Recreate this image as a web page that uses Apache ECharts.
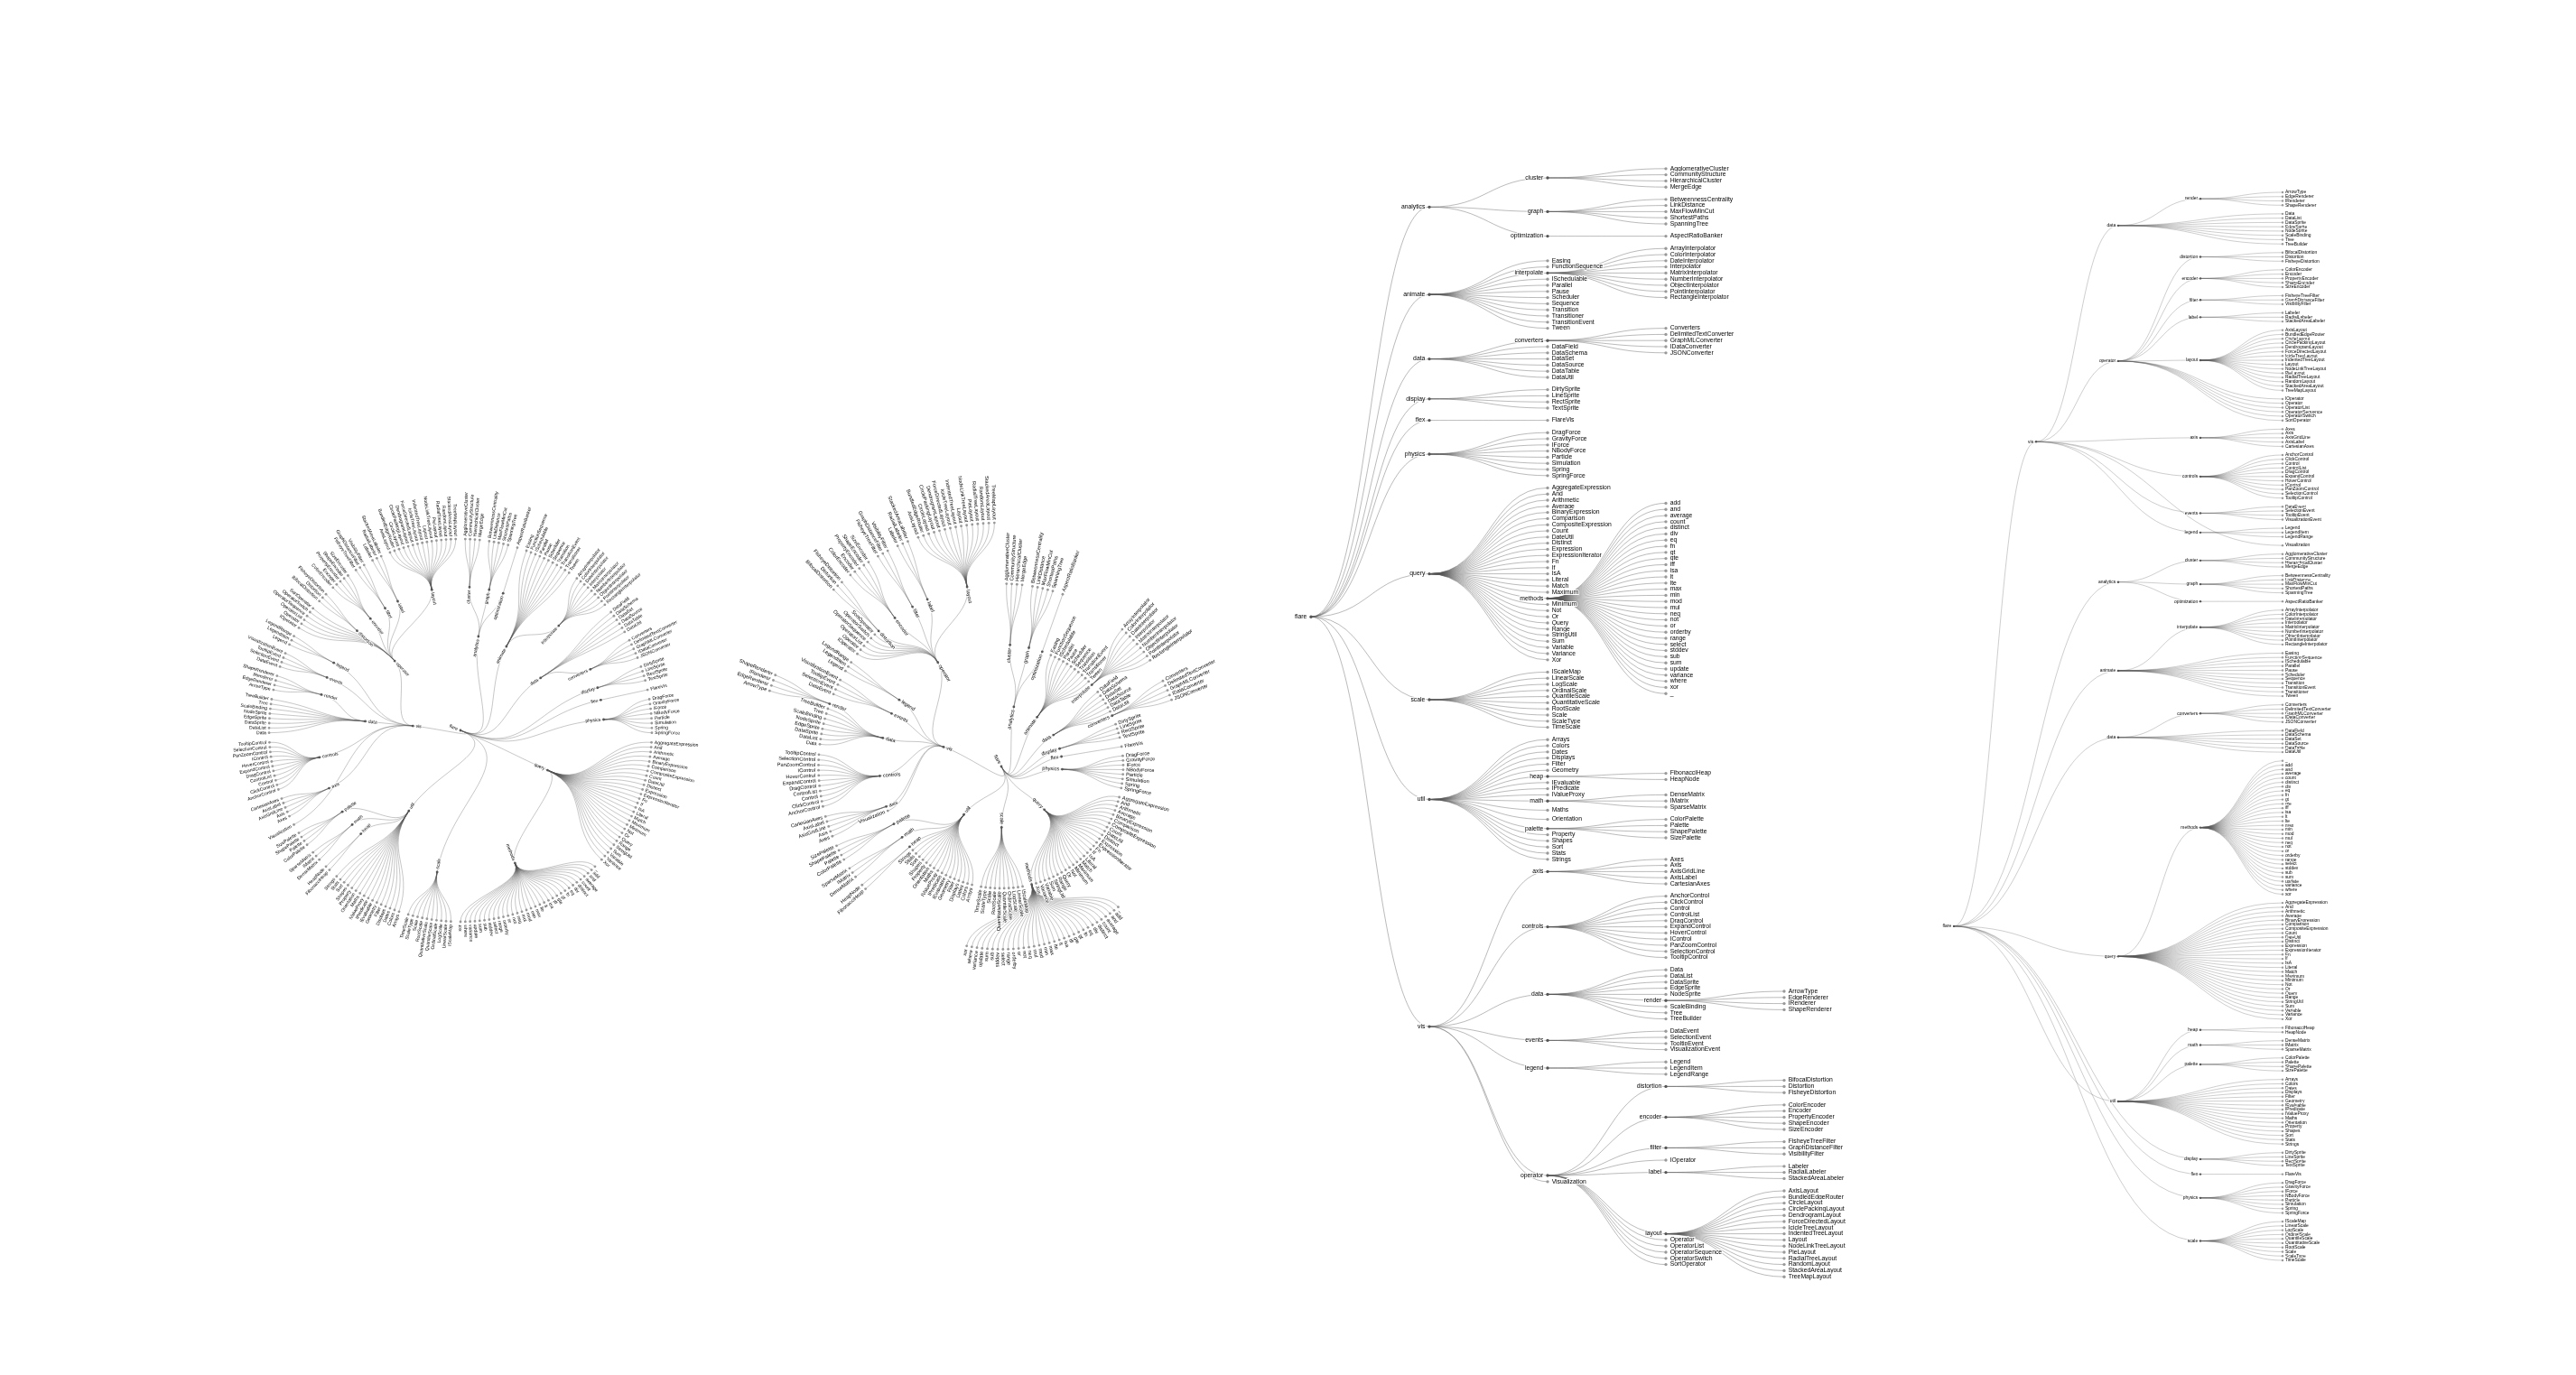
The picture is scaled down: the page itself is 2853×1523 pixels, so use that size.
<!DOCTYPE html>
<html>
<head>
<meta charset="utf-8">
<title>flare trees</title>
<script src="https://cdn.jsdelivr.net/npm/echarts/dist/echarts.min.js"></script>
<style>
  html, body { margin: 0; padding: 0; background: #fff; }
  #main { width: 2853px; height: 1523px; }
</style>
</head>
<body>
<div id="main"></div>
<script>
// flare class hierarchy: leaf names per package
var clusterLeaves = ['AgglomerativeCluster', 'CommunityStructure', 'HierarchicalCluster', 'MergeEdge'];
var graphLeaves = ['BetweennessCentrality', 'LinkDistance', 'MaxFlowMinCut', 'ShortestPaths', 'SpanningTree'];
var optimizationLeaves = ['AspectRatioBanker'];
var interpolateLeaves = ['ArrayInterpolator', 'ColorInterpolator', 'DateInterpolator', 'Interpolator', 'MatrixInterpolator',
	'NumberInterpolator', 'ObjectInterpolator', 'PointInterpolator', 'RectangleInterpolator'];
var convertersLeaves = ['Converters', 'DelimitedTextConverter', 'GraphMLConverter', 'IDataConverter', 'JSONConverter'];
var displayLeaves = ['DirtySprite', 'LineSprite', 'RectSprite', 'TextSprite'];
var flexLeaves = ['FlareVis'];
var physicsLeaves = ['DragForce', 'GravityForce', 'IForce', 'NBodyForce', 'Particle', 'Simulation', 'Spring', 'SpringForce'];
var methodsLeaves = ['add', 'and', 'average', 'count', 'distinct', 'div', 'eq', 'fn', 'gt', 'gte', 'iff', 'isa', 'lt', 'lte',
	'max', 'min', 'mod', 'mul', 'neq', 'not', 'or', 'orderby', 'range', 'select', 'stddev', 'sub', 'sum', 'update',
	'variance', 'where', 'xor', '_'];
var scaleLeaves = ['IScaleMap', 'LinearScale', 'LogScale', 'OrdinalScale', 'QuantileScale', 'QuantitativeScale',
	'RootScale', 'Scale', 'ScaleType', 'TimeScale'];
var heapLeaves = ['FibonacciHeap', 'HeapNode'];
var mathLeaves = ['DenseMatrix', 'IMatrix', 'SparseMatrix'];
var paletteLeaves = ['ColorPalette', 'Palette', 'ShapePalette', 'SizePalette'];
var axisLeaves = ['Axes', 'Axis', 'AxisGridLine', 'AxisLabel', 'CartesianAxes'];
var controlsLeaves = ['AnchorControl', 'ClickControl', 'Control', 'ControlList', 'DragControl', 'ExpandControl',
	'HoverControl', 'IControl', 'PanZoomControl', 'SelectionControl', 'TooltipControl'];
var renderLeaves = ['ArrowType', 'EdgeRenderer', 'IRenderer', 'ShapeRenderer'];
var eventsLeaves = ['DataEvent', 'SelectionEvent', 'TooltipEvent', 'VisualizationEvent'];
var legendLeaves = ['Legend', 'LegendItem', 'LegendRange'];
var distortionLeaves = ['BifocalDistortion', 'Distortion', 'FisheyeDistortion'];
var encoderLeaves = ['ColorEncoder', 'Encoder', 'PropertyEncoder', 'ShapeEncoder', 'SizeEncoder'];
var filterLeaves = ['FisheyeTreeFilter', 'GraphDistanceFilter', 'VisibilityFilter'];
var labelLeaves = ['Labeler', 'RadialLabeler', 'StackedAreaLabeler'];
var layoutLeaves = ['AxisLayout', 'BundledEdgeRouter', 'CircleLayout', 'CirclePackingLayout', 'DendrogramLayout',
	'ForceDirectedLayout', 'IcicleTreeLayout', 'IndentedTreeLayout', 'Layout', 'NodeLinkTreeLayout', 'PieLayout',
	'RadialTreeLayout', 'RandomLayout', 'StackedAreaLayout', 'TreeMapLayout'];

// packages: a string is a class, [name, list] is a sub package
var analyticsItems = [['cluster', clusterLeaves], ['graph', graphLeaves], ['optimization', optimizationLeaves]];
var animateItems = ['Easing', 'FunctionSequence', ['interpolate', interpolateLeaves], 'ISchedulable', 'Parallel', 'Pause',
	'Scheduler', 'Sequence', 'Transition', 'Transitioner', 'TransitionEvent', 'Tween'];
var dataItems = [['converters', convertersLeaves], 'DataField', 'DataSchema', 'DataSet', 'DataSource', 'DataTable', 'DataUtil'];
var queryItems = ['AggregateExpression', 'And', 'Arithmetic', 'Average', 'BinaryExpression', 'Comparison',
	'CompositeExpression', 'Count', 'DateUtil', 'Distinct', 'Expression', 'ExpressionIterator', 'Fn', 'If', 'IsA',
	'Literal', 'Match', 'Maximum', ['methods', methodsLeaves], 'Minimum', 'Not', 'Or', 'Query', 'Range', 'StringUtil',
	'Sum', 'Variable', 'Variance', 'Xor'];
var utilItems = ['Arrays', 'Colors', 'Dates', 'Displays', 'Filter', 'Geometry', ['heap', heapLeaves], 'IEvaluable',
	'IPredicate', 'IValueProxy', ['math', mathLeaves], 'Maths', 'Orientation', ['palette', paletteLeaves], 'Property',
	'Shapes', 'Sort', 'Stats', 'Strings'];
var visDataItems = ['Data', 'DataList', 'DataSprite', 'EdgeSprite', 'NodeSprite', ['render', renderLeaves],
	'ScaleBinding', 'Tree', 'TreeBuilder'];
var operatorItems = [['distortion', distortionLeaves], ['encoder', encoderLeaves], ['filter', filterLeaves], 'IOperator',
	['label', labelLeaves], ['layout', layoutLeaves], 'Operator', 'OperatorList', 'OperatorSequence', 'OperatorSwitch',
	'SortOperator'];
var visItems = [['axis', axisLeaves], ['controls', controlsLeaves], ['data', visDataItems], ['events', eventsLeaves],
	['legend', legendLeaves], ['operator', operatorItems], 'Visualization'];
var flareItems = [['analytics', analyticsItems], ['animate', animateItems], ['data', dataItems],
	['display', displayLeaves], ['flex', flexLeaves], ['physics', physicsLeaves], ['query', queryItems],
	['scale', scaleLeaves], ['util', utilItems], ['vis', visItems]];

var FONT = '"Liberation Sans", Arial, Helvetica, sans-serif';
var LINK = 'rgba(85,85,85,0.4)';

function toNode(entry) {
	if (typeof entry === 'string') return { name: entry };
	return { name: entry[0], children: entry[1].map(toNode) };
}

function heightOf(n) {
	return n.children ? 1 + Math.max.apply(null, n.children.map(heightOf)) : 0;
}

function byName(a, b) {
	return a.name < b.name ? -1 : (a.name > b.name ? 1 : 0);
}

function byHeightThenName(a, b) {
	return (heightOf(b) - heightOf(a)) || byName(a, b);
}

function sortedCopy(node, cmp) {
	var copy = { name: node.name };
	if (node.children) {
		copy.children = node.children.map(function (c) { return sortedCopy(c, cmp); });
		if (cmp) copy.children.sort(cmp);
	}
	return copy;
}

// dendrogram: leaves on one level, parent at mean of its children
function clusterLayout(root) {
	var nodes = [];
	var leaves = [];
	var prev = null;
	var pos = 0;
	function sep(a, b) { return a.parent === b.parent ? 1 : 2; }
	function visit(node, parent) {
		node.parent = parent;
		nodes.push(node);
		if (node.children) {
			var sum = 0, h = 0;
			node.children.forEach(function (c) {
				visit(c, node);
				sum += c.pos;
				h = Math.max(h, c.height);
			});
			node.pos = sum / node.children.length;
			node.height = h + 1;
		} else {
			node.pos = prev ? (pos += sep(node, prev)) : 0;
			node.height = 0;
			prev = node;
			leaves.push(node);
		}
	}
	visit(root, null);
	var first = leaves[0];
	var last = leaves[leaves.length - 1];
	var pad = sep(first, last) / 2;
	nodes.forEach(function (n) {
		n.pos += pad;
		n.level = root.height - n.height;
	});
	return { nodes: nodes, first: first.pos, last: last.pos, span: last.pos + pad, levels: root.height };
}

var flareRoot = toNode(['flare', flareItems]);
var radialCluster = clusterLayout(sortedCopy(flareRoot, byName));
var sideCluster = clusterLayout(sortedCopy(flareRoot, byHeightThenName));

function renderRadialCluster(params, api) {
	var n = radialCluster.nodes[params.dataIndex];
	var p = api.coord([n.level, n.pos]);
	var els = [];
	if (n.parent) {
		var q = n.parent;
		var mid = (q.level + n.level) / 2;
		var a = api.coord([q.level, q.pos]);
		var c1 = api.coord([mid, q.pos]);
		var c2 = api.coord([mid, n.pos]);
		els.push({
			type: 'bezierCurve', z2: 1, silent: true,
			shape: { x1: a[0], y1: a[1], cpx1: c1[0], cpy1: c1[1], cpx2: c2[0], cpy2: c2[1], x2: p[0], y2: p[1] },
			style: { fill: 'none', stroke: LINK, lineWidth: 0.83 }
		});
	}
	els.push({
		type: 'circle', z2: 10, silent: true,
		shape: { cx: p[0], cy: p[1], r: 1.4 },
		style: { fill: n.children ? '#555' : '#999' }
	});
	var theta = n.pos / radialCluster.span * Math.PI * 2;
	var ux = Math.sin(theta);
	var uy = -Math.cos(theta);
	var phi = theta - Math.PI / 2;
	var rightHalf = theta < Math.PI;
	var isLeaf = !n.children;
	var d = isLeaf ? 3.3 : -3.3;
	els.push({
		type: 'text', z2: 20, silent: true,
		x: p[0] + d * ux,
		y: p[1] + d * uy,
		rotation: rightHalf ? -phi : -phi - Math.PI,
		style: {
			text: n.name,
			align: (rightHalf === isLeaf) ? 'left' : 'right',
			verticalAlign: 'middle',
			fontSize: 5.1,
			fontFamily: FONT,
			fill: '#000',
			stroke: '#fff',
			lineWidth: 1.6
		}
	});
	return { type: 'group', children: els };
}

function renderSideCluster(params, api) {
	var n = sideCluster.nodes[params.dataIndex];
	var p = api.coord([n.level, n.pos]);
	var els = [];
	if (n.parent) {
		var a = api.coord([n.parent.level, n.parent.pos]);
		var mx = (a[0] + p[0]) / 2;
		els.push({
			type: 'bezierCurve', z2: 1, silent: true,
			shape: { x1: a[0], y1: a[1], cpx1: mx, cpy1: a[1], cpx2: mx, cpy2: p[1], x2: p[0], y2: p[1] },
			style: { fill: 'none', stroke: LINK, lineWidth: 0.72 }
		});
	}
	els.push({
		type: 'circle', z2: 10, silent: true,
		shape: { cx: p[0], cy: p[1], r: 1.2 },
		style: { fill: n.children ? '#555' : '#999' }
	});
	els.push({
		type: 'text', z2: 20, silent: true,
		x: p[0] + (n.children ? -2.9 : 2.9),
		y: p[1],
		style: {
			text: n.name,
			align: n.children ? 'right' : 'left',
			verticalAlign: 'middle',
			fontSize: 4.9,
			fontFamily: FONT,
			fill: '#000',
			stroke: '#fff',
			lineWidth: 1.5
		}
	});
	return { type: 'group', children: els };
}

var hidden = { show: false };

var chart = echarts.init(document.getElementById('main'));

var option = {
	backgroundColor: '#fff',
	animation: false,
	polar: { center: [510, 809], radius: 212 },
	angleAxis: {
		type: 'value', min: 0, max: radialCluster.span, startAngle: 90, clockwise: true,
		axisLine: hidden, axisTick: hidden, axisLabel: hidden, splitLine: hidden, splitArea: hidden
	},
	radiusAxis: {
		type: 'value', min: 0, max: radialCluster.levels,
		axisLine: hidden, axisTick: hidden, axisLabel: hidden, splitLine: hidden, splitArea: hidden
	},
	grid: { left: 2164, top: 213, width: 364, height: 1183, containLabel: false },
	xAxis: { type: 'value', min: 0, max: sideCluster.levels, show: false },
	yAxis: { type: 'value', min: sideCluster.first, max: sideCluster.last, inverse: true, show: false },
	series: [
		{
			type: 'custom',
			coordinateSystem: 'polar',
			silent: true,
			data: radialCluster.nodes.map(function (n) { return [n.level, n.pos]; }),
			renderItem: renderRadialCluster
		},
		{
			type: 'tree',
			layout: 'radial',
			data: [sortedCopy(flareRoot, byName)],
			left: 839,
			top: 579,
			width: 540,
			height: 540,
			symbol: 'circle',
			symbolSize: 2.8,
			expandAndCollapse: false,
			roam: false,
			silent: true,
			itemStyle: { color: '#555', borderWidth: 0 },
			lineStyle: { color: '#555', opacity: 0.4, width: 0.84, curveness: 0.5 },
			label: {
				fontSize: 5.6, fontFamily: FONT, color: '#000', distance: 2,
				textBorderColor: '#fff', textBorderWidth: 1.7
			},
			leaves: { itemStyle: { color: '#999' } }
		},
		{
			type: 'tree',
			orient: 'LR',
			data: [sortedCopy(flareRoot, null)],
			left: 1452,
			top: 180,
			width: 524,
			height: 1241,
			symbol: 'circle',
			symbolSize: 3.35,
			expandAndCollapse: false,
			roam: false,
			silent: true,
			itemStyle: { color: '#555', borderWidth: 0 },
			lineStyle: { color: '#555', opacity: 0.4, width: 1, curveness: 0.5 },
			label: {
				position: 'left', verticalAlign: 'middle', align: 'right',
				fontSize: 6.8, fontFamily: FONT, color: '#000', distance: 3,
				textBorderColor: '#fff', textBorderWidth: 2
			},
			leaves: {
				label: { position: 'right', verticalAlign: 'middle', align: 'left' },
				itemStyle: { color: '#999' }
			}
		},
		{
			type: 'custom',
			coordinateSystem: 'cartesian2d',
			silent: true,
			data: sideCluster.nodes.map(function (n) { return [n.level, n.pos]; }),
			renderItem: renderSideCluster
		}
	]
};

chart.setOption(option);
</script>
</body>
</html>
